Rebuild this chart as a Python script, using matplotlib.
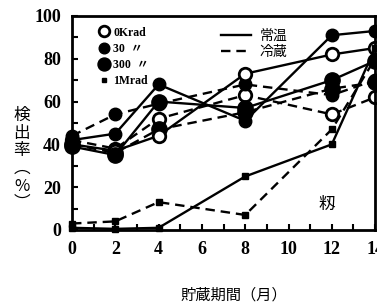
import matplotlib
matplotlib.use('Agg')
import matplotlib.pyplot as plt
from matplotlib.lines import Line2D
from matplotlib.ticker import MultipleLocator

# ── データ ──
months = [0, 2, 4, 8, 12, 14]

# 常温 (実線)
room_0k = [40, 37, 44, 73, 82, 85]
room_30 = [42, 45, 68, 51, 91, 93]
room_300 = [39, 35, 60, 57, 70, 79]
room_1m = [1, 0.5, 1, 25, 40, 85]

# 冷蔵 (破線)
cold_0k = [42, 38, 52, 63, 54, 62]
cold_30 = [44, 54, 59, 68, 63, 70]
cold_300 = [40, 36, 47, 55, 66, 69]
cold_1m = [3, 4, 13, 7, 47, 80]

dose_labels = ['0Krad', '30  〃', '300  〃', '1Mrad']
storage_labels = ['常温', '冷蔵']
x_ticks = [0, 2, 4, 6, 8, 10, 12, 14]
y_ticks = [0, 20, 40, 60, 80, 100]

serif = ['Liberation Serif', 'DejaVu Serif']
jp = ['Noto Sans CJK JP', 'DejaVu Sans']

# マーカー様式 (0Krad 白丸, 30 黒丸, 300 大黒丸, 1Mrad 小四角)
styles = [
    dict(marker='o', ms=9, mfc='white', mec='black', mew=2.0),
    dict(marker='o', ms=9, mfc='black', mec='black', mew=1.0),
    dict(marker='o', ms=11, mfc='black', mec='black', mew=1.0),
    dict(marker='s', ms=4, mfc='black', mec='black', mew=1.0),
]

fig = plt.figure(figsize=(3.77, 3.07), dpi=100)
ax = fig.add_axes([0.191, 0.251, 0.804, 0.697])

room = [room_0k, room_30, room_300, room_1m]
cold = [cold_0k, cold_30, cold_300, cold_1m]
for vals, st in zip(cold, styles):
    ax.plot(months, vals, color='black', lw=1.7, ls=(0, (4, 2.5)), clip_on=False, **st)
for vals, st in zip(room, styles):
    ax.plot(months, vals, color='black', lw=1.7, ls='-', clip_on=False, **st)

ax.set_xlim(0, 14)
ax.set_ylim(0, 100)
ax.set_xticks(x_ticks)
ax.set_yticks(y_ticks)
ax.xaxis.set_minor_locator(MultipleLocator(1))
ax.yaxis.set_minor_locator(MultipleLocator(10))
ax.tick_params(which='both', direction='in', width=1.5, length=4)
ax.tick_params(which='major', labelsize=13, pad=8)
for lab in ax.get_xticklabels() + ax.get_yticklabels():
    lab.set_family(serif)
    lab.set_fontweight('bold')
for sp in ax.spines.values():
    sp.set_linewidth(2.0)

# 凡例 (照射量)
h_dose = [Line2D([], [], ls='none', **dict(st, ms=st['ms'] * 0.85)) for st in styles]
leg1 = ax.legend(h_dose, dose_labels, loc='upper left', bbox_to_anchor=(0.05, 1.0),
                 frameon=False, handlelength=1.0, handletextpad=0.3, labelspacing=0.35,
                 prop={'family': serif + jp, 'size': 8.5, 'weight': 'bold'})
ax.add_artist(leg1)

# 凡例 (保存条件)
h_store = [Line2D([], [], color='black', lw=1.7, ls='-'),
           Line2D([], [], color='black', lw=1.7, ls=(0, (4, 2.5)))]
ax.legend(h_store, storage_labels, loc='upper left', bbox_to_anchor=(0.45, 1.0),
          frameon=False, handlelength=2.2, handletextpad=0.6, labelspacing=0.15,
          prop={'family': jp, 'size': 10})

ax.text(0.84, 0.12, '籾', transform=ax.transAxes, ha='center', va='center',
        fontsize=12, family=jp)

fig.text(0.058, 0.48, '検\n出\n率\n︵\n%\n︶', ha='center', va='center',
         fontsize=12, family=jp, linespacing=1.05)
fig.text(0.62, 0.04, '貯蔵期間（月）', ha='center', va='center', fontsize=11, family=jp)

fig.savefig('out.png', dpi=100)
